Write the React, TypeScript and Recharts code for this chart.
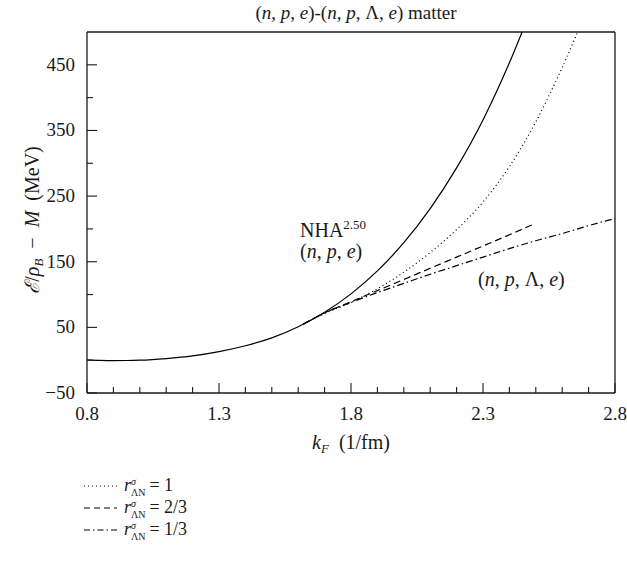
import React from 'react';
import { LineChart, Line, XAxis, YAxis, ReferenceLine } from 'recharts';

// (n,p,e) NHA^2.50 curve
const nhaX = [0.8, 0.85, 0.9, 0.95, 1.0, 1.1, 1.2, 1.3, 1.4, 1.5, 1.6, 1.7, 1.8, 1.9, 2.0, 2.1, 2.2, 2.3, 2.4, 2.5];
const nhaY = [0.5, -0.3, -0.6, -0.5, 0, 2.5, 6.5, 13, 22, 34, 51, 73, 101, 136, 179, 231, 293, 366, 453, 553];

// r = 1 (dotted)
const r1X = [1.62, 1.7, 1.8, 1.9, 2.0, 2.1, 2.2, 2.3, 2.4, 2.5, 2.6, 2.7];
const r1Y = [55, 71, 88, 109, 134, 164, 199, 241, 295, 363, 446, 540];

// r = 2/3 (dashed)
const r23X = [1.62, 1.7, 1.8, 1.9, 2.0, 2.1, 2.2, 2.3, 2.4, 2.49];
const r23Y = [55, 72, 89, 106, 123, 140, 157, 174, 191, 207];

// r = 1/3 (dash-dot)
const r13X = [1.62, 1.7, 1.8, 1.9, 2.0, 2.1, 2.2, 2.3, 2.4, 2.5, 2.6, 2.7, 2.8];
const r13Y = [55, 72, 88, 103, 117, 131, 144, 157, 170, 182, 193, 205, 216];

const xTicks = [0.8, 0.9, 1.0, 1.1, 1.2, 1.3, 1.4, 1.5, 1.6, 1.7, 1.8, 1.9, 2.0, 2.1, 2.2, 2.3, 2.4, 2.5, 2.6, 2.7, 2.8];
const xMajor = ['0.8', '1.3', '1.8', '2.3', '2.8'];
const yTicks = [-50, 0, 50, 100, 150, 200, 250, 300, 350, 400, 450];
const yMajor = ['-50', '50', '150', '250', '350', '450'];

const toPts = (xs: number[], ys: number[]) => xs.map((x, i) => ({ x, y: ys[i] }));
const nhaData = toPts(nhaX, nhaY);
const r1Data = toPts(r1X, r1Y);
const r23Data = toPts(r23X, r23Y);
const r13Data = toPts(r13X, r13Y);

const FONT = "'Liberation Serif', 'DejaVu Serif', serif";
const INK = '#1a1a1a';
const ts = (size: number) => ({ fontFamily: FONT, fontSize: size });

const XTick = (props: any) => {
  const { x, y, payload } = props;
  const label = Number(payload.value).toFixed(1);
  const major = xMajor.includes(label);
  return (
    <g>
      <line x1={x} y1={y} x2={x} y2={y - (major ? 10 : 6)} stroke={INK} strokeWidth={1.1} />
      {major && (
        <text x={x} y={y + 27} textAnchor="middle" style={ts(19)} fill={INK}>
          {label}
        </text>
      )}
    </g>
  );
};

const YTick = (props: any) => {
  const { x, y, payload } = props;
  const v = Math.round(Number(payload.value));
  const label = String(v);
  const major = yMajor.includes(label);
  return (
    <g>
      <line x1={x} y1={y} x2={x + (major ? 10 : 6)} y2={y} stroke={INK} strokeWidth={1.1} />
      {major && (
        <text x={x - 12} y={y + 6} textAnchor="end" style={ts(19)} fill={INK}>
          {label.replace('-', '\u2212')}
        </text>
      )}
    </g>
  );
};

const legendRows = [
  { dash: '1 3', value: '1', base: 491 },
  { dash: '6 4', value: '2/3', base: 513 },
  { dash: '6 3 1.5 3', value: '1/3', base: 535 },
];

export default function App() {
  return (
    <div style={{ position: 'absolute', left: 0, top: 0, width: 627, height: 563, background: '#fff' }}>
      <LineChart
        width={627}
        height={563}
        margin={{ top: 32, right: 12, bottom: 140, left: 27 }}
      >
        <XAxis
          dataKey="x"
          type="number"
          domain={[0.8, 2.8]}
          ticks={xTicks}
          interval={0}
          allowDataOverflow
          tick={<XTick />}
          tickLine={false}
          tickSize={0}
          tickMargin={0}
          height={30}
          axisLine={{ stroke: INK, strokeWidth: 1.3 }}
        />
        <YAxis
          type="number"
          domain={[-50, 500]}
          ticks={yTicks}
          interval={0}
          allowDataOverflow
          tick={<YTick />}
          tickLine={false}
          tickSize={0}
          tickMargin={0}
          width={60}
          axisLine={{ stroke: INK, strokeWidth: 1.3 }}
        />
        <ReferenceLine y={500} stroke={INK} strokeWidth={1.3} />
        <ReferenceLine x={2.8} stroke={INK} strokeWidth={1.3} />
        <Line data={nhaData} dataKey="y" type="monotone" dot={false} stroke="#000" strokeWidth={1.2} isAnimationActive={false} />
        <Line data={r1Data} dataKey="y" type="monotone" dot={false} stroke="#000" strokeWidth={1.2} strokeDasharray="1 3" isAnimationActive={false} />
        <Line data={r23Data} dataKey="y" type="monotone" dot={false} stroke="#000" strokeWidth={1.2} strokeDasharray="7 4" isAnimationActive={false} />
        <Line data={r13Data} dataKey="y" type="monotone" dot={false} stroke="#000" strokeWidth={1.2} strokeDasharray="7 3 1.5 3" isAnimationActive={false} />

        {/* Title */}
        <text x={356} y={19} textAnchor="middle" style={ts(19)} fill={INK}>
          (<tspan fontStyle="italic">n</tspan>, <tspan fontStyle="italic">p</tspan>, <tspan fontStyle="italic">e</tspan>)-(<tspan fontStyle="italic">n</tspan>, <tspan fontStyle="italic">p</tspan>, Λ, <tspan fontStyle="italic">e</tspan>) matter
        </text>

        {/* Y axis title */}
        <text transform="translate(39,220) rotate(-90)" textAnchor="middle" style={ts(20)} fill={INK}>
          <tspan fontStyle="italic">ℰ</tspan>/<tspan fontStyle="italic">ρ</tspan><tspan fontStyle="italic" fontSize={13} dy={4}>B</tspan><tspan dy={-4}>{'\u2002\u2212\u2002'}</tspan><tspan fontStyle="italic">M</tspan>{'\u2002'}(MeV)
        </text>

        {/* X axis title */}
        <text x={351} y={449} textAnchor="middle" style={ts(20)} fill={INK}>
          <tspan fontStyle="italic">k</tspan><tspan fontStyle="italic" fontSize={13} dy={4}>F</tspan><tspan dy={-4}>{'\u2002'}(1/fm)</tspan>
        </text>

        {/* Annotations */}
        <text x={300} y={237} style={ts(20)} fill={INK}>
          NHA<tspan fontSize={13} dy={-8}>2.50</tspan>
        </text>
        <text x={300} y={258} style={ts(20)} fill={INK}>
          (<tspan fontStyle="italic">n</tspan>, <tspan fontStyle="italic">p</tspan>, <tspan fontStyle="italic">e</tspan>)
        </text>
        <text x={478} y={286} style={ts(20)} fill={INK}>
          (<tspan fontStyle="italic">n</tspan>, <tspan fontStyle="italic">p</tspan>, Λ, <tspan fontStyle="italic">e</tspan>)
        </text>

        {/* Legend */}
        {legendRows.map((r) => (
          <g key={r.value}>
            <line x1={84} x2={117} y1={r.base - 5} y2={r.base - 5} stroke="#000" strokeWidth={1.1} strokeDasharray={r.dash} />
            <text x={124} y={r.base} style={ts(18)} fill={INK}>
              <tspan fontStyle="italic">r</tspan>
              <tspan fontStyle="italic" fontSize={10} dy={-6}>σ</tspan>
              <tspan fontSize={10} dx={-5} dy={11}>ΛN</tspan>
              <tspan dx={4} dy={-5}>= {r.value}</tspan>
            </text>
          </g>
        ))}
      </LineChart>
    </div>
  );
}
